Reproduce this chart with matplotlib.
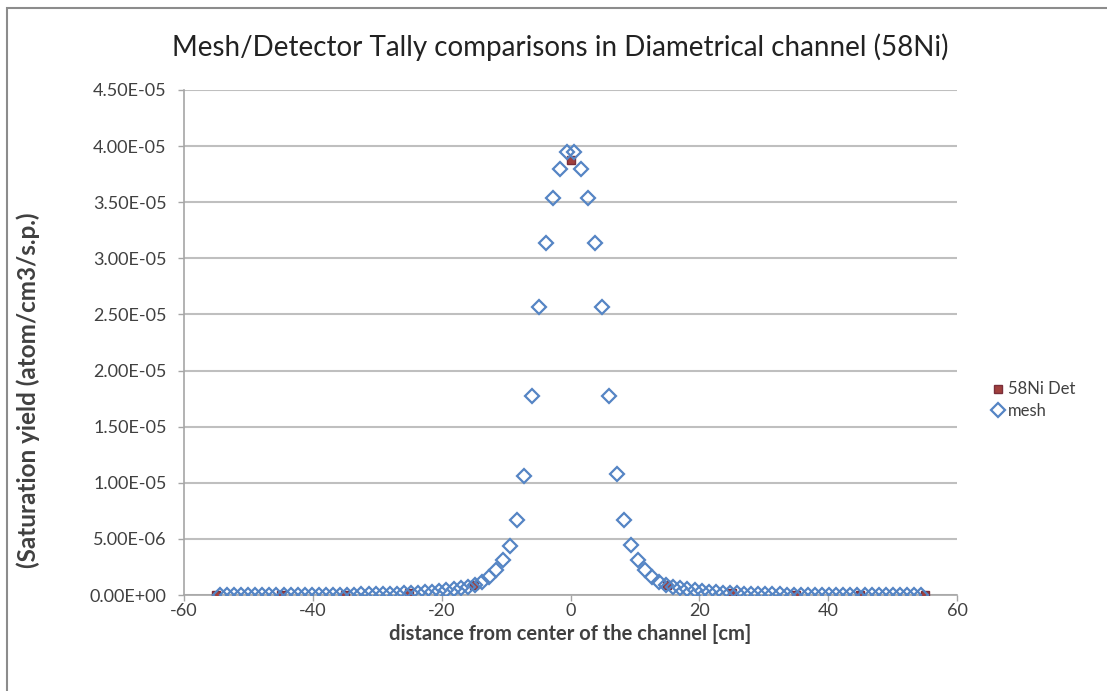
import matplotlib
matplotlib.use('Agg')
import matplotlib.pyplot as plt
from matplotlib.patches import Rectangle
import numpy as np

plt.rcParams['font.family'] = ['Lato', 'DejaVu Sans']

# 网格中心位置 (cm)
mesh_x_left = [-54.45, -53.35, -52.25, -51.15, -50.05, -48.95, -47.85, -46.75, -45.65, -44.55,
               -43.45, -42.35, -41.25, -40.15, -39.05, -37.95, -36.85, -35.75, -34.65, -33.55,
               -32.45, -31.35, -30.25, -29.15, -28.05, -26.95, -25.85, -24.75, -23.65, -22.55,
               -21.45, -20.35, -19.25, -18.15, -17.05, -15.95, -14.85, -13.75, -12.65, -11.55,
               -10.45, -9.35, -8.25, -7.15, -6.05, -4.95, -3.85, -2.75, -1.65, -0.55]
mesh_x_right = [0.55, 1.65, 2.75, 3.85, 4.95, 6.05, 7.15, 8.25, 9.35, 10.45,
                11.55, 12.65, 13.75, 14.85, 15.95, 17.05, 18.15, 19.25, 20.35, 21.45,
                22.55, 23.65, 24.75, 25.85, 26.95, 28.05, 29.15, 30.25, 31.35, 32.45,
                33.55, 34.65, 35.75, 36.85, 37.95, 39.05, 40.15, 41.25, 42.35, 43.45,
                44.55, 45.65, 46.75, 47.85, 48.95, 50.05, 51.15, 52.25, 53.35, 54.45]

# 网格计数值 (1e-5 atom/cm3/s.p.)
mesh_y_left = [0.0002, 0.0002, 0.0002, 0.0003, 0.0003, 0.0003, 0.0004, 0.0004, 0.0005, 0.0006,
               0.0007, 0.0008, 0.0009, 0.0011, 0.0013, 0.0016, 0.002, 0.0025, 0.003, 0.004,
               0.005, 0.006, 0.007, 0.008, 0.010, 0.012, 0.015, 0.018, 0.022, 0.026,
               0.031, 0.037, 0.044, 0.052, 0.062, 0.075, 0.09, 0.12, 0.16, 0.22,
               0.31, 0.44, 0.67, 1.06, 1.77, 2.57, 3.14, 3.54, 3.80, 3.95]
mesh_y_right = [3.95, 3.80, 3.54, 3.14, 2.57, 1.77, 1.08, 0.67, 0.45, 0.31,
                0.22, 0.16, 0.12, 0.09, 0.075, 0.062, 0.052, 0.044, 0.037, 0.031,
                0.026, 0.022, 0.018, 0.015, 0.012, 0.010, 0.008, 0.007, 0.006, 0.005,
                0.004, 0.003, 0.0025, 0.002, 0.0016, 0.0013, 0.0011, 0.0009, 0.0008, 0.0007,
                0.0006, 0.0005, 0.0005, 0.0004, 0.0004, 0.0003, 0.0003, 0.0003, 0.0002, 0.0002]

# 探测器计数
det_x = [-55, -45, -35, -25, -15, 0, 15, 25, 35, 45, 55]
det_y = [0.0003, 0.0008, 0.002, 0.018, 0.09, 3.88, 0.09, 0.018, 0.002, 0.0008, 0.0003]

y_ticks = [0, 0.5e-5, 1.0e-5, 1.5e-5, 2.0e-5, 2.5e-5, 3.0e-5, 3.5e-5, 4.0e-5, 4.5e-5]
y_tick_labels = ['0.00E+00', '5.00E-06', '1.00E-05', '1.50E-05', '2.00E-05',
                 '2.50E-05', '3.00E-05', '3.50E-05', '4.00E-05', '4.50E-05']
x_ticks = [-60, -40, -20, 0, 20, 40, 60]

mesh_x = np.array(mesh_x_left + mesh_x_right)
mesh_y = np.array(mesh_y_left + mesh_y_right) * 1e-5
det_yv = np.array(det_y) * 1e-5

fig = plt.figure(figsize=(11.07, 6.91), dpi=100)
ax = fig.add_axes([184 / 1107, 1 - 595 / 691, (957 - 184) / 1107, (595 - 90) / 691])

text_c = '#404040'
grid_c = '#bfbfbf'

ax.plot(det_x, det_yv, linestyle='none', marker='s', markersize=6,
        color='#a0403d', markeredgecolor='#7a2e3a', label='58Ni Det', zorder=3)
ax.plot(mesh_x, mesh_y, linestyle='none', marker='D', markersize=7,
        markerfacecolor='none', markeredgecolor='#5585c4', markeredgewidth=1.6,
        label='mesh', zorder=4)

ax.set_xlim(-60, 60)
ax.set_ylim(0, 4.5e-5)
ax.set_xticks(x_ticks)
ax.set_xticklabels([str(t) for t in x_ticks])
ax.set_yticks(y_ticks)
ax.set_yticklabels(y_tick_labels)
ax.yaxis.grid(True, color=grid_c, linewidth=1.5)
ax.set_axisbelow(True)
for s in ['top', 'right']:
    ax.spines[s].set_visible(False)
for s in ['left', 'bottom']:
    ax.spines[s].set_color('#a6a6a6')
    ax.spines[s].set_linewidth(1.2)
ax.tick_params(axis='both', colors='#a6a6a6', labelcolor=text_c, labelsize=13,
               length=4.5, width=1)
ax.tick_params(axis='x', pad=1.5)
ax.tick_params(axis='y', pad=8)

fig.text(560 / 1107, 1 - 47 / 691, 'Mesh/Detector Tally comparisons in Diametrical channel (58Ni)',
         ha='center', va='center', fontsize=20, color='#222222')
fig.text(570 / 1107, 1 - 634 / 691, 'distance from center of the channel [cm]',
         ha='center', va='center', fontsize=14.5, fontweight='bold', color=text_c)
fig.text(28 / 1107, 1 - 390 / 691, '(Saturation yield (atom/cm3/s.p.)',
         ha='center', va='center', rotation=90, fontsize=17.5, fontweight='bold', color=text_c)

ax.legend(loc='center left', bbox_to_anchor=(975 / 1107, 1 - 400 / 691),
          bbox_transform=fig.transFigure, frameon=False, fontsize=12,
          handletextpad=0.1, handlelength=1.0, labelcolor=text_c, labelspacing=0.3)

# 图表外框
fig.patches.append(Rectangle((7 / 1107, -0.05), 1.2, 1 - 8 / 691 + 0.05,
                             transform=fig.transFigure, fill=False,
                             edgecolor='#8c8c8c', linewidth=1.5))

fig.savefig('out.png', dpi=100)
